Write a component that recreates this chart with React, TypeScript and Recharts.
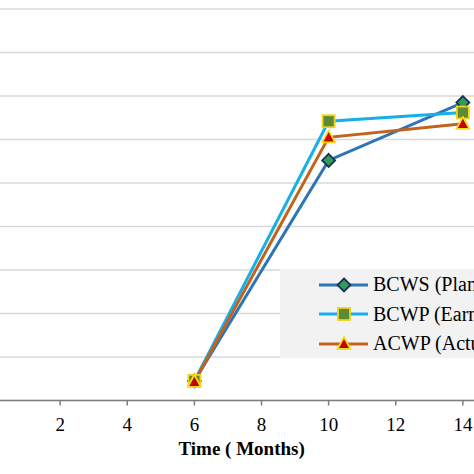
import { CartesianGrid, Label, Legend, Line, LineChart, XAxis, YAxis } from 'recharts'

// x positions (months) and values, in gridline units
const months = [6, 10, 14]
const bcws = [0.45, 5.52, 6.85]
const bcwp = [0.45, 6.42, 6.62]
const acwp = [0.43, 6.05, 6.36]

const monthTicks = [2, 4, 6, 8, 10, 12, 14]
const gridTicks = [1, 2, 3, 4, 5, 6, 7, 8]

const seriesNames = ['BCWS (Planned Value)', 'BCWP (Earned Value)', 'ACWP (Actual Cost)']

const FONT = '"Liberation Serif", "Times New Roman", serif'

const chartData = months.map((m, i) => ({ month: m, bcws: bcws[i], bcwp: bcwp[i], acwp: acwp[i] }))

const colors = {
  bcws: '#2e75b6',
  bcwp: '#15b0ea',
  acwp: '#c2621c',
}

function Diamond({ cx, cy }: any) {
  if (cx == null || cy == null) return null
  const r = 6.5
  return (
    <path
      d={`M${cx},${cy - r}L${cx + r},${cy}L${cx},${cy + r}L${cx - r},${cy}Z`}
      fill="#2f9d55"
      stroke="#1b2f5e"
      strokeWidth={1.8}
    />
  )
}

function Square({ cx, cy }: any) {
  if (cx == null || cy == null) return null
  const r = 6
  return <rect x={cx - r} y={cy - r} width={r * 2} height={r * 2} fill="#5d8a35" stroke="#f2d21b" strokeWidth={1.8} />
}

function Triangle({ cx, cy }: any) {
  if (cx == null || cy == null) return null
  return (
    <path
      d={`M${cx},${cy - 7}L${cx + 6.5},${cy + 5}L${cx - 6.5},${cy + 5}Z`}
      fill="#c80000"
      stroke="#f7dc1c"
      strokeWidth={1.8}
      strokeLinejoin="round"
    />
  )
}

const markers = [Diamond, Square, Triangle]
const lineColors = [colors.bcws, colors.bcwp, colors.acwp]

function LegendBox() {
  return (
    <div style={{ background: '#f2f2f2', width: 220, height: 89, paddingTop: 1, boxSizing: 'border-box' }}>
      {seriesNames.map((name, i) => {
        const M = markers[i]
        return (
          <div key={name} style={{ display: 'flex', alignItems: 'center', height: 29.5, whiteSpace: 'nowrap' }}>
            <svg width={93} height={20} style={{ flex: 'none' }}>
              <line x1={39} x2={88} y1={10} y2={10} stroke={lineColors[i]} strokeWidth={3} />
              <M cx={64} cy={10} />
            </svg>
            <span style={{ fontFamily: FONT, fontSize: 20, color: '#000' }}>{name}</span>
          </div>
        )
      })}
    </div>
  )
}

function AxisTitle({ viewBox }: any) {
  const { x, y, width } = viewBox
  return (
    <text
      x={x + width * 0.463}
      y={y + 54}
      textAnchor="middle"
      fontFamily={FONT}
      fontSize={19}
      fontWeight="bold"
      fill="#000"
    >
      Time ( Months)
    </text>
  )
}

export default function App() {
  return (
    <div style={{ position: 'fixed', left: 0, top: 0, width: 474, height: 474, overflow: 'hidden', background: '#fff' }}>
      <div style={{ position: 'absolute', left: -7, top: 0 }}>
        <LineChart width={537} height={474} data={chartData} margin={{ top: 9, right: 0, bottom: 23.5, left: 0 }}>
          <CartesianGrid vertical={false} stroke="#d9d9d9" strokeWidth={1.5} />
          <XAxis
            dataKey="month"
            type="number"
            domain={[0, 16]}
            ticks={monthTicks}
            allowDataOverflow
            height={50}
            stroke="#7f7f7f"
            strokeWidth={1.5}
            tickSize={5}
            tickMargin={12}
            tick={{ fill: '#000', fontFamily: FONT, fontSize: 19 }}
          >
            <Label content={AxisTitle} />
          </XAxis>
          <YAxis hide type="number" domain={[0, 9]} ticks={gridTicks} />
          <Legend
            content={LegendBox}
            layout="vertical"
            align="center"
            verticalAlign="middle"
            wrapperStyle={{ left: 287, top: 269, width: 220, height: 89 }}
          />
          <Line dataKey="bcws" stroke={colors.bcws} strokeWidth={3} dot={<Diamond />} isAnimationActive={false} />
          <Line dataKey="bcwp" stroke={colors.bcwp} strokeWidth={3} dot={<Square />} isAnimationActive={false} />
          <Line dataKey="acwp" stroke={colors.acwp} strokeWidth={3} dot={<Triangle />} isAnimationActive={false} />
        </LineChart>
      </div>
    </div>
  )
}
